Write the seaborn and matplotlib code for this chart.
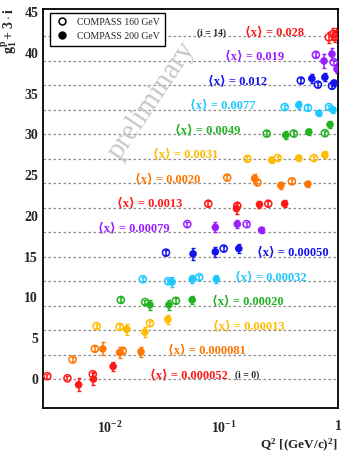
import numpy as np
import pandas as pd
import matplotlib
matplotlib.use("Agg")
import matplotlib.pyplot as plt
from matplotlib.lines import Line2D
from matplotlib.ticker import FixedLocator, FixedFormatter, LogLocator, NullFormatter, MultipleLocator
import seaborn as sns

# <x> of each bin, i = 0 .. 14
x_means = ["0.000052", "0.000081", "0.00013", "0.00020", "0.00032", "0.00050", "0.00079",
           "0.0013", "0.0020", "0.0031", "0.0049", "0.0077", "0.012", "0.019", "0.028"]
bin_colors = ["#ff1a1a", "#ff7700", "#ffbb00", "#22b322", "#1ec8ff", "#1414f0", "#9a1fff",
              "#ff1a1a", "#ff7700", "#ffbb00", "#22b322", "#1ec8ff", "#1414f0", "#9a1fff",
              "#ff1a1a"]

# COMPASS 160 GeV: Q2, g1, stat. error per bin
q2_160 = [[0.00284, 0.00426, 0.0071], [0.00472, 0.0074, 0.013], [0.00767, 0.0122, 0.0225],
          [0.0125, 0.0204, 0.038], [0.0195, 0.0324, 0.0608], [0.0311, 0.0995],
          [0.0478, 0.158], [0.073, 0.131, 0.245], [0.107, 0.197, 0.394],
          [0.161, 0.296, 0.615], [0.237, 0.409, 0.767], [0.341, 0.545, 0.832],
          [0.472, 0.667, 0.885], [0.640, 0.917], [0.83, 0.90, 0.945, 0.975]]
g1_160 = [[0.36, 0.1, 0.6], [-0.6, 0.7, 0.45], [0.5, 0.4, 0.85],
          [0.7, 0.45, 0.6], [0.25, 0.0, 0.5], [0.5, 1.0],
          [1.0, 1.0], [0.5, 0.25, 0.5], [0.7, 0.1, 0.25],
          [0.0, 0.1, 0.1], [0.1, 0.1, 0.15], [0.35, 0.25, 0.35],
          [0.6, 0.1, -0.05], [0.75, -0.15], [-0.1, 0.3, 0.0, 0.3]]
err_160 = [[0.3, 0.3, 0.3], [0.3, 0.3, 0.3], [0.3, 0.3, 0.3],
           [0.3, 0.3, 0.3], [0.3, 0.3, 0.3], [0.3, 0.3],
           [0.3, 0.3], [0.3, 0.3, 0.3], [0.3, 0.3, 0.3],
           [0.3, 0.3, 0.3], [0.3, 0.3, 0.3], [0.3, 0.3, 0.3],
           [0.3, 0.3, 0.3], [0.3, 0.3], [0.7, 0.7, 0.7, 0.7]]

# COMPASS 200 GeV: Q2, g1, stat. error per bin
q2_200 = [[0.00533, 0.0072, 0.0107], [0.0087, 0.0122, 0.0188], [0.0141, 0.0203, 0.0323],
          [0.0225, 0.033, 0.0527], [0.0352, 0.0528, 0.0859], [0.0537, 0.0841, 0.135],
          [0.0842, 0.131, 0.214], [0.129, 0.205, 0.341], [0.186, 0.316, 0.544],
          [0.262, 0.453, 0.767], [0.348, 0.555, 0.851], [0.453, 0.681, 0.903],
          [0.590, 0.767, 0.922], [0.754, 0.885, 0.98], []]
g1_200 = [[-0.7, 0.0, 1.55], [0.7, 0.25, 0.35], [0.1, -0.25, 1.3],
          [0.1, 0.1, 0.7], [-0.1, 0.25, 0.25], [0.35, 0.6, 1.0],
          [0.6, 1.0, 0.25], [-0.1, 0.4, 0.5], [0.6, -0.25, -0.1],
          [-0.15, 0.1, 0.5], [-0.1, 0.3, 1.2], [0.6, -0.4, 0.0],
          [0.85, 1.0, 0.3], [0.0, 0.85, -1.0], []]
err_200 = [[0.8, 0.7, 0.6], [0.8, 0.7, 0.6], [0.7, 0.6, 0.6],
           [0.6, 0.6, 0.5], [0.6, 0.5, 0.5], [0.7, 0.6, 0.6],
           [0.6, 0.5, 0.4], [0.7, 0.4, 0.4], [0.6, 0.4, 0.4],
           [0.4, 0.4, 0.4], [0.5, 0.4, 0.4], [0.5, 0.4, 0.4],
           [0.5, 0.5, 0.4], [0.9, 0.7, 0.5], []]

rows = []
for beam, qs, gs, es in ((160, q2_160, g1_160, err_160), (200, q2_200, g1_200, err_200)):
    for i, (q, g, e) in enumerate(zip(qs, gs, es)):
        for qq, gg, ee in zip(q, g, e):
            rows.append(dict(beam=beam, bin=i, Q2=qq, g1=gg, err=ee, y=gg + 3 * i))
df = pd.DataFrame(rows)

sns.set_style("white")
serif = ["Liberation Serif", "DejaVu Serif"]
plt.rcParams["font.family"] = serif
plt.rcParams["mathtext.fontset"] = "custom"
plt.rcParams["mathtext.rm"] = "Liberation Serif:bold"
plt.rcParams["mathtext.it"] = "Liberation Serif:italic:bold"
plt.rcParams["mathtext.bf"] = "Liberation Serif:bold"

fig = plt.figure(figsize=(3.41, 4.53), dpi=100)
ax = fig.add_axes([43 / 341, 1 - 408 / 453, 295 / 341, 399 / 453])

ax.set_xscale("log")
ax.set_xlim(0.0026, 1.0)
ax.set_ylim(-3.55, 45.37)

# dotted reference line for every bin
for i in range(len(x_means)):
    ax.axhline(3 * i, color="#8c8c8c", ls=(0, (2, 2)), lw=0.9, zorder=0)

palette = {i: c for i, c in enumerate(bin_colors)}

# error bars
for (beam, i), sub in df.groupby(["beam", "bin"]):
    ax.errorbar(sub["Q2"], sub["y"], yerr=sub["err"], fmt="none",
                ecolor=bin_colors[i], elinewidth=1.1, capsize=1.5, capthick=1.0, zorder=2)

# 200 GeV: filled circles
sns.scatterplot(data=df[df.beam == 200], x="Q2", y="y", hue="bin", palette=palette,
                s=30, linewidth=0, legend=False, ax=ax, zorder=3)
# 160 GeV: open circles
n_before = len(ax.collections)
sns.scatterplot(data=df[df.beam == 160], x="Q2", y="y", hue="bin", palette=palette,
                s=26, linewidth=1.1, legend=False, ax=ax, zorder=3)
for coll in ax.collections[n_before:]:
    fc = coll.get_facecolors()
    coll.set_edgecolors(fc)
    coll.set_facecolors("none")

# bin labels (x in axes fraction)
label_xfrac = [0.363, 0.424, 0.576, 0.573, 0.651, 0.725, 0.186,
               0.251, 0.312, 0.373, 0.447, 0.498, 0.559, 0.617, 0.685]
for i, (xm, xf) in enumerate(zip(x_means, label_xfrac)):
    ax.text(xf, 3 * i + 0.5, "⟨x⟩ = " + xm, transform=ax.get_yaxis_transform(),
            color=bin_colors[i], fontsize=9, fontweight="bold", family=serif,
            ha="left", va="center", zorder=4)
ax.text(0.651, 0.45, "(i = 0)", transform=ax.get_yaxis_transform(), fontsize=7,
        fontweight="bold", ha="left", va="center")
ax.text(0.522, 42.45, "(i = 14)", transform=ax.get_yaxis_transform(), fontsize=7,
        fontweight="bold", ha="left", va="center")

ax.text(0.37, 0.77, "preliminary", transform=ax.transAxes, rotation=56,
        color="#c8c8c8", fontsize=21, ha="center", va="center", zorder=1)

# axes styling
for sp in ax.spines.values():
    sp.set_linewidth(1.3)
    sp.set_color("black")
ax.yaxis.set_major_locator(MultipleLocator(5))
ax.yaxis.set_minor_locator(MultipleLocator(1))
ax.xaxis.set_major_locator(FixedLocator([0.01, 0.1, 1.0]))
ax.xaxis.set_major_formatter(FixedFormatter([r"$10^{-2}$", r"$10^{-1}$", "1"]))
ax.xaxis.set_minor_locator(LogLocator(base=10, subs=np.arange(2, 10)))
ax.xaxis.set_minor_formatter(NullFormatter())
ax.tick_params(axis="both", which="major", direction="in", length=8, width=1.1,
               labelsize=10, top=False, right=False)
ax.tick_params(axis="both", which="minor", direction="in", length=4, width=1.0,
               top=False, right=False)
ax.tick_params(axis="x", which="major", pad=9)
for lab in ax.get_yticklabels() + ax.get_xticklabels():
    lab.set_fontweight("bold")
ax.set_xlabel("")
ax.set_ylabel("")

fig.text(9 / 341, 1 - 31 / 453, r"$\mathrm{g_1^p + 3 \cdot i}$", rotation=90, fontsize=10,
         ha="center", va="center")
fig.text(338 / 341, 1 - 445 / 453, r"$\mathrm{Q^2\ [(GeV/c)^2]}$", fontsize=9.5,
         ha="right", va="center")

handles = [Line2D([], [], ls="none", marker="o", mfc="none", mec="black", ms=5, mew=1.1),
           Line2D([], [], ls="none", marker="o", mfc="black", mec="black", ms=5)]
leg = ax.legend(handles, ["COMPASS 160 GeV", "COMPASS 200 GeV"], loc="upper left",
                bbox_to_anchor=(0.024, 0.99), borderaxespad=0, fancybox=False,
                frameon=True, edgecolor="black", framealpha=1, prop={"size": 7},
                handletextpad=0.8, borderpad=0.5, labelspacing=0.5, handlelength=1.5)
leg.get_frame().set_linewidth(1.0)

fig.savefig("out.png", dpi=100)
